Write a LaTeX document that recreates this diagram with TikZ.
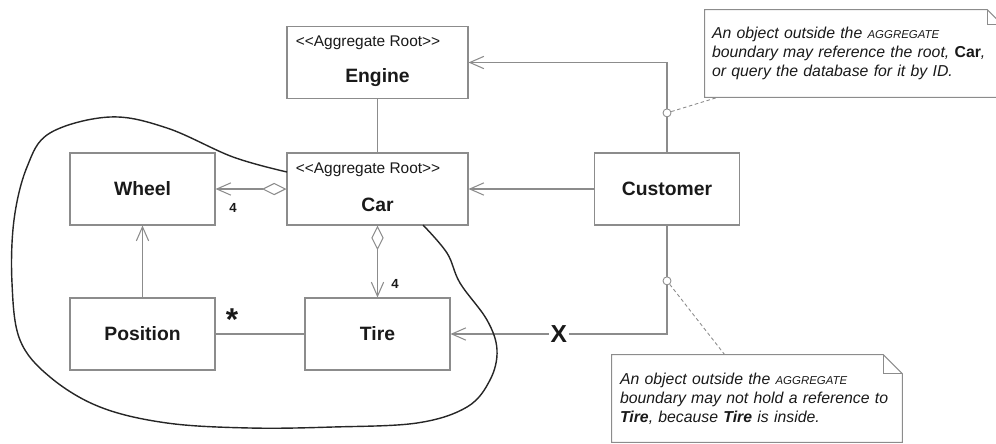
\documentclass[tikz,border=0pt]{standalone}
\usepackage{fontspec}
\setmainfont{Liberation Sans}
\usepackage{tikz}
\usetikzlibrary{arrows.meta,shapes,positioning,calc}
\definecolor{umlgray}{RGB}{140,140,140}
\definecolor{umlink}{RGB}{25,25,25}

\begin{document}
\begin{tikzpicture}[
    x=0.02cm, y=-0.02cm,
    box/.style={rectangle, draw=umlgray, line width=0.6pt, text=umlink, minimum width=2.9cm, minimum height=1.44cm, font=\fontsize{11}{13}\selectfont\bfseries},
    rootbox/.style={box, minimum width=3.62cm},
    stereo/.style={anchor=west, inner sep=0pt, text=umlink, font=\fontsize{8.8}{10}\selectfont},
    boxname/.style={inner sep=0pt, text=umlink, font=\fontsize{11}{13}\selectfont\bfseries},
    note/.style={rectangle, align=left, text=umlink, inner xsep=0.14cm, minimum height=1.74cm, font=\fontsize{9}{10.8}\selectfont\itshape},
    notebox/.style={draw=umlgray, line width=0.6pt},
    link/.style={draw=umlgray, line width=0.6pt},
    arrow/.style={link, -{Straight Barb[length=8pt, width=7pt]}},
    agg/.style={link, {Diamond[fill=white, length=14pt, width=7pt]}-{Straight Barb[length=8pt, width=7pt]}},
    hint/.style={draw=umlgray, line width=0.5pt, dash pattern=on 2pt off 1.5pt},
    ring/.style={circle, draw=umlgray, line width=0.5pt, fill=white, inner sep=0pt, minimum size=0.16cm},
    mult/.style={inner sep=0pt, text=umlink, font=\fontsize{7.5}{9}\selectfont\bfseries},
    cross/.style={fill=white, inner sep=1pt, text=umlink, font=\fontsize{14}{16}\selectfont\bfseries},
    boundary/.style={draw=black!85, line width=0.8pt}
]
    \clip (0,0) rectangle (996,443);

    % Classes
    \node[rootbox] (engine) at (377.5,62.5) {};
    \node[stereo] (engine-st) at ([xshift=0.18cm, yshift=-0.34cm]engine.north west) {{<}{<}Aggregate Root{>}{>}};
    \node[boxname] (engine-name) at ([yshift=-0.31cm]engine.center) {Engine};

    \node[rootbox] (car) at (377.5,189) {};
    \node[stereo] (car-st) at ([xshift=0.18cm, yshift=-0.34cm]car.north west) {{<}{<}Aggregate Root{>}{>}};
    \node[boxname] (car-name) at ([yshift=-0.32cm]car.center) {Car};

    \node[box] (wheel) at (142.5,189) {Wheel};
    \node[box] (position) at (142.5,334) {Position};
    \node[box] (tire) at (377.5,334) {Tire};
    \node[box] (customer) at (667,189) {Customer};

    % Notes
    \node[note, text width=5.66cm] (note1) at (853.5,53.5) {An object outside the {\fontsize{6.5}{8}\selectfont AGGREGATE}\\boundary may reference the root, {\upshape\bfseries Car},\\or query the database for it by ID.};
    \node[note, inner xsep=0.16cm, text width=5.48cm] (note2) at (757,398.5) {An object outside the {\fontsize{6.5}{8}\selectfont AGGREGATE}\\boundary may not hold a reference to\\\textbf{Tire}, because \textbf{Tire} is inside.};
    \draw[notebox] (note1.south west) -- (note1.south east) -- ([yshift=-0.3cm]note1.north east) -- ([xshift=-0.3cm]note1.north east) -- (note1.north west) -- cycle;
    \draw[notebox] ([xshift=-0.3cm]note1.north east) |- ([yshift=-0.3cm]note1.north east);
    \draw[notebox] (note2.south west) -- (note2.south east) -- ([yshift=-0.38cm]note2.north east) -- ([xshift=-0.38cm]note2.north east) -- (note2.north west) -- cycle;
    \draw[notebox] ([xshift=-0.38cm]note2.north east) |- ([yshift=-0.38cm]note2.north east);

    % Associations
    \draw[link] (engine) -- (car);
    \draw[agg] (car) -- (wheel);
    \node[mult] (wheel-n) at (233,208) {4};
    \draw[agg] (car) -- (tire);
    \node[mult] (tire-n) at (395,284) {4};
    \draw[arrow] (position) -- (wheel);
    \draw[link] (position) -- (tire);
    \node[mult, font=\fontsize{18}{20}\selectfont\bfseries] (position-n) at (232,320) {*};
    \draw[arrow] (customer) -- (car);
    \draw[arrow] (customer.north) |- node[ring, pos=0.22] (ring1) {} (engine.east);
    \draw[arrow] (customer.south) |- node[ring, pos=0.255] (ring2) {} node[cross, pos=0.75] (nox) {X} (tire.east);

    % Note anchors
    \draw[hint] (ring1) -- ([xshift=0.26cm]note1.south west);
    \draw[hint] (ring2) -- ([xshift=2.26cm]note2.north west);

    % Aggregate boundary
    \draw[boundary] plot[smooth, tension=0.6] coordinates {(287,172) (233,157) (167,128) (110,117) (50,133) (27,167) (14,220) (12,283) (20,340) (50,377) (100,407) (167,423) (250,428) (333,427) (417,423) (467,407) (490,380) (497,350) (487,320) (460,283) (447,253) (423,225)};
\end{tikzpicture}
\end{document}
